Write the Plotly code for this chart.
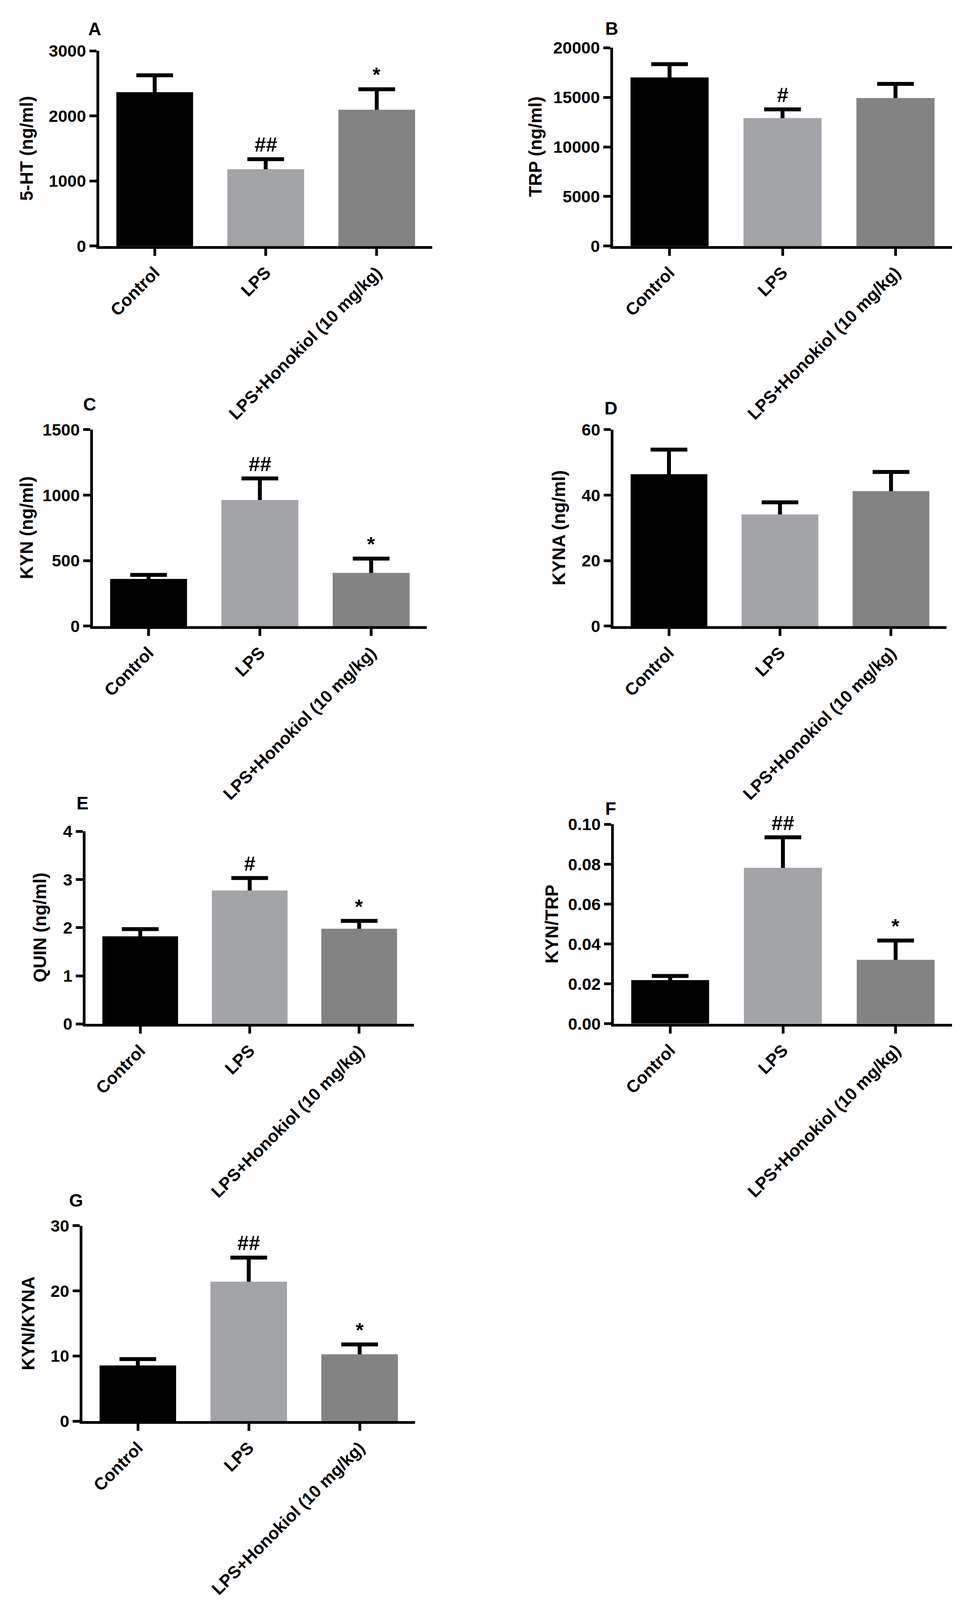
import plotly.graph_objects as go

W, H = 2479, 4571

groups = ['Control', 'LPS', 'LPS+Honokiol (10 mg/kg)']
bar_colors = ['#000000', '#A3A4A8', '#838383']

# mean and SEM
serotonin = [2365, 1180, 2095]
serotonin_err = [260, 155, 315]
trp = [17000, 12900, 14930]
trp_err = [1350, 880, 1430]
kyn = [360, 963, 406]
kyn_err = [31, 165, 110]
kyna = [46.4, 34.1, 41.2]
kyna_err = [7.5, 3.7, 5.9]
quin = [1.82, 2.77, 1.975]
quin_err = [0.15, 0.26, 0.165]
kyn_trp = [0.0218, 0.0782, 0.0320]
kyn_trp_err = [0.0021, 0.0153, 0.0097]
kyn_kyna = [8.53, 21.4, 10.26]
kyn_kyna_err = [0.99, 3.7, 1.51]

serotonin_marks = ['', '##', '*']
trp_marks = ['', '#', '']
kyn_marks = ['', '##', '*']
kyna_marks = ['', '', '']
quin_marks = ['', '#', '*']
kyn_trp_marks = ['', '##', '*']
kyn_kyna_marks = ['', '##', '*']

panels = [
    # letter, y title, values, errors, marks, ymax, dtick, tickformat,
    # plot box in pixels (x0, x1, y0, y1), title x, letter position
    ('A', '5-HT (ng/ml)', serotonin, serotonin_err, serotonin_marks, 3000, 1000, 'd',
     (254, 1107, 120, 684), 68, (242, 56)),
    ('B', 'TRP (ng/ml)', trp, trp_err, trp_marks, 20000, 5000, 'd',
     (1570, 2438, 111, 684), 1371, (1566, 55)),
    ('C', 'KYN (ng/ml)', kyn, kyn_err, kyn_marks, 1500, 500, 'd',
     (238, 1093, 1215, 1783), 68, (229, 1142)),
    ('D', 'KYNA (ng/ml)', kyna, kyna_err, kyna_marks, 60, 20, 'd',
     (1571, 2424, 1215, 1783), 1431, (1564, 1153)),
    ('E', 'QUIN (ng/ml)', quin, quin_err, quin_marks, 4, 1, 'd',
     (219, 1060, 2376, 2933), 102, (211, 2295)),
    ('F', 'KYN/TRP', kyn_trp, kyn_trp_err, kyn_trp_marks, 0.10, 0.02, '.2f',
     (1572, 2438, 2356, 2932), 1413, (1564, 2310)),
    ('G', 'KYN/KYNA', kyn_kyna, kyn_kyna_err, kyn_kyna_marks, 30, 10, 'd',
     (211, 1063, 3516, 4081), 72, (195, 3443)),
]

FONT = 'Liberation Sans'

fig = go.Figure()
annotations = []

for i, (letter, ytitle, vals, errs, marks, ymax, dtick, fmt, box, title_x, letter_pos) in enumerate(panels, start=1):
    x0, x1, y0, y1 = box
    xa = 'x' if i == 1 else 'x%d' % i
    ya = 'y' if i == 1 else 'y%d' % i

    # bars with SEM whiskers; a second copy of the bars is laid on top so
    # only the upper half of each whisker shows (GraphPad style)
    fig.add_trace(go.Bar(
        x=groups, y=vals, xaxis=xa, yaxis=ya,
        marker=dict(color=bar_colors, line=dict(width=0)),
        width=0.69,
        error_y=dict(type='data', array=errs, color='#000000', thickness=10, width=47),
        showlegend=False, hoverinfo='skip',
    ))
    fig.add_trace(go.Bar(
        x=groups, y=vals, xaxis=xa, yaxis=ya,
        marker=dict(color=bar_colors, line=dict(width=0)),
        width=0.69, showlegend=False,
    ))

    axis_line = dict(showline=True, linecolor='#000000', linewidth=7,
                     ticks='outside', tickcolor='#000000', tickwidth=7, ticklen=18,
                     showgrid=False, zeroline=False, fixedrange=True)

    fig.layout['xaxis%d' % i if i > 1 else 'xaxis'] = dict(
        domain=[x0 / W, x1 / W], anchor=ya, range=[-0.5, 2.5],
        tickangle=-45, tickfont=dict(family=FONT, size=44, color='#000000', weight='bold'),
        **axis_line)
    fig.layout['yaxis%d' % i if i > 1 else 'yaxis'] = dict(
        domain=[1 - y1 / H, 1 - y0 / H], anchor=xa, range=[0, ymax], dtick=dtick,
        tickformat=fmt, tickfont=dict(family=FONT, size=43, color='#000000', weight='bold'),
        **axis_line)

    # y axis title
    annotations.append(dict(
        text=ytitle, xref='paper', yref='paper', x=title_x / W, y=1 - (y0 + y1) / 2 / H,
        textangle=-90, showarrow=False, xanchor='center', yanchor='middle',
        font=dict(family=FONT, size=46, color='#000000', weight='bold')))

    # panel letter
    annotations.append(dict(
        text=letter, xref='paper', yref='paper', x=letter_pos[0] / W, y=1 - letter_pos[1] / H,
        showarrow=False, xanchor='center', yanchor='middle',
        font=dict(family=FONT, size=46, color='#000000', weight='bold')))

    # significance marks
    for g, v, e, m in zip(groups, vals, errs, marks):
        if m:
            annotations.append(dict(
                text=m, xref=xa, yref=ya, x=g, y=v + e, yanchor='bottom', yshift=6,
                showarrow=False,
                font=dict(family=FONT, size=52, color='#000000', weight='bold')))

fig.update_layout(
    width=W, height=H,
    barmode='overlay',
    margin=dict(l=0, r=0, t=0, b=0),
    paper_bgcolor='#FFFFFF', plot_bgcolor='#FFFFFF',
    annotations=annotations,
    font=dict(family=FONT, color='#000000'),
)

# fit the page to the visible window so the bottom panel is not cut off
fit_js = (
    "document.body.style.margin='0';"
    "var gd=document.getElementById('{plot_id}');"
    "var h=window.innerHeight;"
    "if(h>1000 && h<" + str(H) + "){Plotly.relayout(gd,{height:h});}"
)

fig.write_html("out.html", post_script=fit_js, config={'displayModeBar': False})
